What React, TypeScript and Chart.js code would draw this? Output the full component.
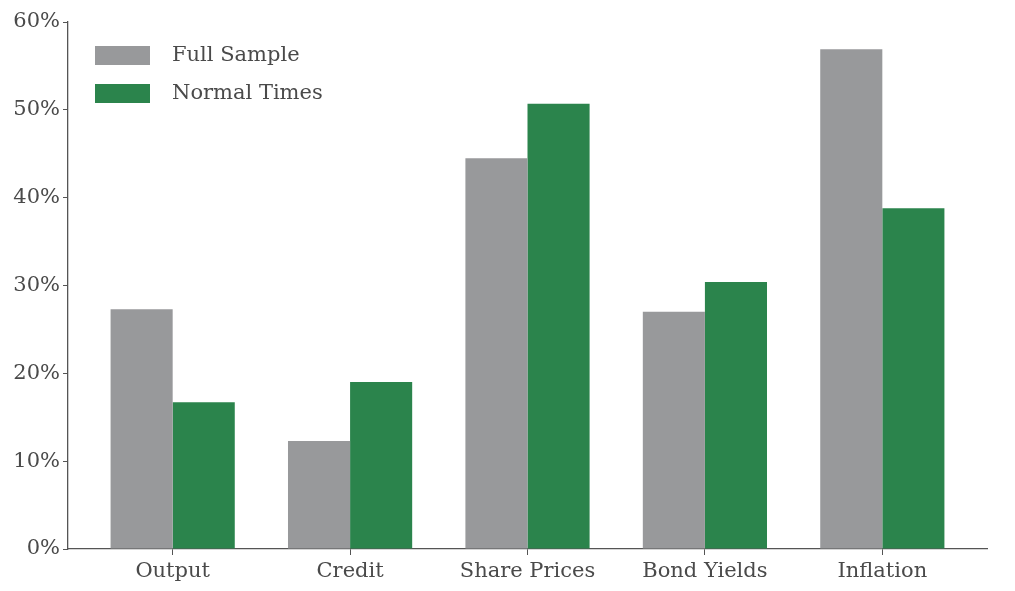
import React, { useEffect, useRef } from 'react';
import { Chart, registerables } from 'chart.js';

Chart.register(...registerables);

// Chart data
const categories = ['Output', 'Credit', 'Share Prices', 'Bond Yields', 'Inflation'];
const fullSample = [27.3, 12.3, 44.5, 27.0, 56.9];
const normalTimes = [16.7, 19.0, 50.7, 30.4, 38.8];
const seriesNames = ['Full Sample', 'Normal Times'];
const yTicks = [0, 10, 20, 30, 40, 50, 60];

const GRAY = '#98999b';
const GREEN = '#2b844c';
const AXIS = '#555555';
const TEXT = '#4a4a4a';
const FONT = "'DejaVu Serif', serif";

// Legend drawn inside the plot area, top-left
const innerLegend = {
  id: 'innerLegend',
  afterDraw(chart: Chart) {
    const { ctx, chartArea } = chart;
    const x0 = chartArea.left + 27;
    const y0 = chartArea.top + 24;
    ctx.save();
    ctx.font = `21px ${FONT}`;
    ctx.textBaseline = 'middle';
    chart.data.datasets.forEach((ds, i) => {
      const y = y0 + i * 38;
      ctx.fillStyle = ds.backgroundColor as string;
      ctx.fillRect(x0, y, 55, 19);
      ctx.fillStyle = TEXT;
      ctx.fillText(ds.label as string, x0 + 77, y + 10);
    });
    ctx.restore();
  }
};

const App: React.FC = () => {
  const canvasRef = useRef<HTMLCanvasElement>(null);

  useEffect(() => {
    const ctx = canvasRef.current?.getContext('2d');
    if (!ctx) return;

    const chart = new Chart(ctx, {
      type: 'bar',
      data: {
        datasets: [
          {
            label: seriesNames[0],
            data: fullSample.map((v, i) => ({ x: i, y: v })),
            backgroundColor: GRAY,
            borderWidth: 0
          },
          {
            label: seriesNames[1],
            data: normalTimes.map((v, i) => ({ x: i, y: v })),
            backgroundColor: GREEN,
            borderWidth: 0
          }
        ]
      },
      options: {
        animation: false,
        responsive: true,
        maintainAspectRatio: false,
        categoryPercentage: 0.7,
        barPercentage: 1.0,
        layout: { padding: { top: 22, right: 28, bottom: 0, left: 0 } },
        plugins: {
          legend: { display: false },
          tooltip: { enabled: false }
        },
        scales: {
          x: {
            type: 'linear',
            min: -0.59,
            max: 4.59,
            offset: false,
            afterBuildTicks: (scale: any) => {
              scale.ticks = categories.map((_, i) => ({ value: i }));
            },
            afterFit: (scale: any) => {
              scale.height = 42;
            },
            grid: {
              display: true,
              offset: false,
              drawOnChartArea: false,
              drawTicks: true,
              tickLength: 6,
              color: AXIS
            },
            border: { display: true, color: AXIS, width: 1.3 },
            ticks: {
              autoSkip: false,
              maxRotation: 0,
              padding: 4,
              color: TEXT,
              font: { family: FONT, size: 21 },
              callback: (value: string | number) => categories[Number(value)] ?? ''
            }
          },
          y: {
            min: 0,
            max: 60,
            afterBuildTicks: (scale: any) => {
              scale.ticks = yTicks.map((v) => ({ value: v }));
            },
            afterFit: (scale: any) => {
              scale.width = 68;
            },
            grid: {
              display: true,
              drawOnChartArea: false,
              drawTicks: true,
              tickLength: 5,
              color: AXIS
            },
            border: { display: true, color: AXIS, width: 1.3 },
            ticks: {
              padding: 3,
              color: TEXT,
              font: { family: FONT, size: 21 },
              callback: (value: string | number) => `${value}%`
            }
          }
        }
      },
      plugins: [innerLegend]
    });

    return () => {
      chart.destroy();
    };
  }, []);

  return (
    <div
      style={{
        position: 'fixed',
        left: 0,
        top: 0,
        width: '1015px',
        height: '591px',
        background: '#ffffff'
      }}
    >
      <canvas ref={canvasRef} />
    </div>
  );
};

export default App;
